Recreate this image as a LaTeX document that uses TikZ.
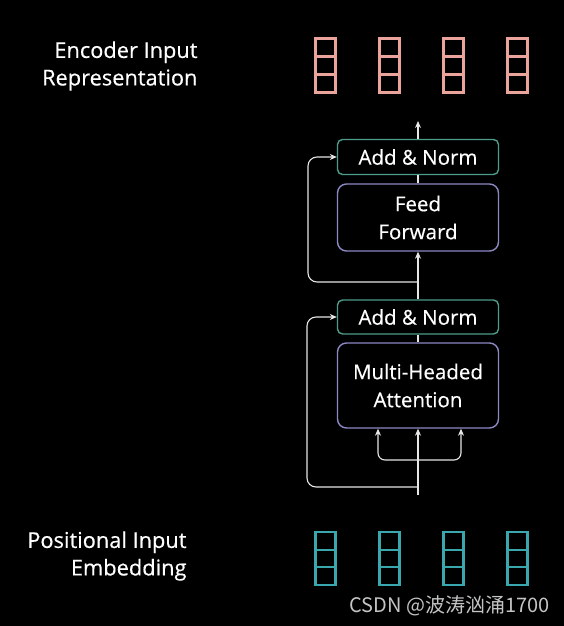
\documentclass[tikz,border=0pt]{standalone}
\usepackage{fontspec}
\setmainfont{Open Sans}[FakeBold=0.4]
\newfontfamily\cjk{Noto Sans CJK SC}
\usetikzlibrary{arrows.meta}
\definecolor{BG}{HTML}{000000}
\definecolor{OUT}{HTML}{EBA49C}
\definecolor{IN}{HTML}{3AA6AE}
\definecolor{AN}{HTML}{4E9C8A}
\definecolor{BLK}{HTML}{8C88C4}
\definecolor{ARR}{HTML}{E6E6E6}
\definecolor{WM}{HTML}{C4C4C4}
\tikzset{
  addnorm/.style={draw=AN, line width=1.4pt, rounded corners=5pt, minimum width=161pt, minimum height=35pt, text=white, font=\fontsize{20.5}{22}\selectfont},
  block/.style={draw=BLK, line width=1.4pt, rounded corners=9pt, minimum width=161pt, text=white, align=center, font=\fontsize{20.5}{28}\selectfont},
  flow/.style={draw=ARR, line width=1.1pt, -{Stealth[length=7pt,width=6pt]}},
  label/.style={text=white, align=right, anchor=east, font=\fontsize{21.8}{27.5}\selectfont},
}
\begin{document}
\begin{tikzpicture}[x=1pt,y=-1pt]%
\fill[BG] (0,0) rectangle (564,626);%
\useasboundingbox (0,0) rectangle (564,626);%
% side labels
\node[label] (outlbl) at (201,66) {Encoder Input\\Representation};%
\node[label] (inlbl) at (190,556) {Positional Input\\Embedding};%
% vectors
\foreach \i/\x in {1/325.5,2/389.5,3/453.5,4/517.5} {%
  \node[draw=OUT, line width=2.4pt, minimum width=20pt, minimum height=54pt, inner sep=0pt] (out\i) at (\x,65.5) {};%
  \draw[OUT, line width=2.4pt] (\x-10,56.5) -- (\x+10,56.5) (\x-10,74.5) -- (\x+10,74.5);%
  \node[draw=IN, line width=2.4pt, minimum width=20pt, minimum height=53pt, inner sep=0pt] (in\i) at (\x,558.5) {};%
  \draw[IN, line width=2.4pt] (\x-10,550.2) -- (\x+10,550.2) (\x-10,566.8) -- (\x+10,566.8);%
}
% encoder blocks
\node[addnorm] (an2) at (418,157) {Add \& Norm};%
\node[block, minimum height=67pt] (ff) at (418,217.5) {Feed\\Forward};%
\node[addnorm, minimum height=34pt] (an1) at (418,317) {Add \& Norm};%
\node[block, minimum height=85pt] (mha) at (418,385.5) {Multi-Headed\\Attention};%
\coordinate (top) at (418,121);%
\coordinate (src) at (418,495);%
\coordinate (split) at (418,460);%
\coordinate (res1) at (418,487);%
\coordinate (res2) at (418,282);%
% connectors
\draw[flow] (an2.north) -- (top);%
\draw[ARR, line width=1.1pt] (ff.north) -- (an2.south);%
\draw[flow] (an1.north) -- (ff.south);%
\draw[ARR, line width=1.1pt] (mha.north) -- (an1.south);%
\draw[flow] (src) -- (mha.south);%
\draw[flow, rounded corners=7pt] (split) -| ([xshift=-40pt]mha.south);%
\draw[flow, rounded corners=7pt] (split) -| ([xshift=43pt]mha.south);%
\draw[flow, rounded corners=9pt] (res1) -| (307,317) -- (an1.west);%
\draw[flow, rounded corners=9pt] (res2) -| (308,157) -- (an2.west);%
% watermark
\node[text=WM, anchor=west, font=\fontsize{20}{22}\selectfont\cjk] (wm) at (346,606) {CSDN @波涛汹涌1700};%
\end{tikzpicture}
\end{document}
